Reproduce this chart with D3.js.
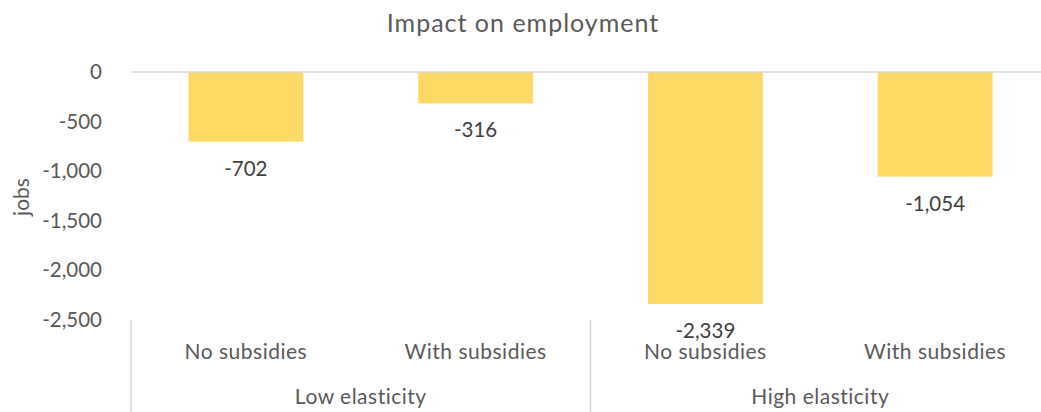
<!DOCTYPE html>
<html>
<head>
<meta charset="utf-8">
<script src="https://cdn.jsdelivr.net/npm/d3@7"></script>
<style>
  html, body { margin: 0; padding: 0; background: #fff; }
  svg { display: block; font-family: Lato, "Open Sans", sans-serif; }
</style>
</head>
<body>
<svg id="chart" width="1041" height="412"></svg>
<script>
// Employment impact by elasticity scenario and subsidy option
const groups = ["Low elasticity", "High elasticity"];
const subcategories = ["No subsidies", "With subsidies"];
const jobs = [-702, -316, -2339, -1054];
const yTicks = [0, -500, -1000, -1500, -2000, -2500];

const rows = [];
groups.forEach((g, gi) => subcategories.forEach((s, si) => {
  rows.push({ group: g, sub: s, key: g + "|" + s, value: jobs[gi * subcategories.length + si] });
}));

const svg = d3.select("#chart");
const plotLeft = 131, plotRight = 1050, plotTop = 72, plotBottom = 320;

const x = d3.scaleBand().domain(rows.map(d => d.key)).range([plotLeft, plotRight]).paddingInner(0.5).paddingOuter(0.25);
const xGroup = d3.scaleBand().domain(groups).range([plotLeft, plotRight]);
const y = d3.scaleLinear().domain([0, -2500]).range([plotTop, plotBottom]);

// thousands separator with a plain hyphen for negatives
const fmt = d3.formatLocale({ decimal: ".", thousands: ",", grouping: [3], currency: ["", ""], minus: "-" }).format(",");
const grey = "#595959";

// title
svg.append("text").attr("x", 523).attr("y", 32).attr("text-anchor", "middle")
  .attr("font-size", 25).attr("letter-spacing", 1).attr("fill", grey).text("Impact on employment");

// y axis labels
const yAxis = d3.axisLeft(y).tickValues(yTicks).tickFormat(fmt).tickSize(0).tickPadding(0);
const yg = svg.append("g").attr("transform", `translate(${plotLeft - 29},0)`).call(yAxis);
yg.select(".domain").remove();
yg.selectAll("text").attr("font-size", 20.5).attr("fill", grey).attr("font-family", "Lato, 'Open Sans', sans-serif");

// y axis title
svg.append("text").attr("transform", `translate(22,197) rotate(-90)`)
  .attr("text-anchor", "middle").attr("dy", "0.35em")
  .attr("font-size", 21).attr("fill", grey).text("jobs");

// bars
svg.append("g").selectAll("rect").data(rows).join("rect")
  .attr("x", d => x(d.key)).attr("width", x.bandwidth())
  .attr("y", y(0)).attr("height", d => y(d.value) - y(0))
  .attr("fill", "#FFD966");

// zero line
svg.append("line").attr("x1", plotLeft).attr("x2", plotRight).attr("y1", y(0)).attr("y2", y(0))
  .attr("stroke", "#d9d9d9").attr("stroke-width", 1.5);

// data labels
svg.append("g").selectAll("text").data(rows).join("text")
  .attr("x", d => x(d.key) + x.bandwidth() / 2).attr("y", d => y(d.value) + 34)
  .attr("text-anchor", "middle").attr("font-size", 20.5).attr("fill", "#404040")
  .text(d => fmt(d.value));

// category axis: group separators
const seps = groups.map(g => xGroup(g)).concat([plotRight]);
svg.append("g").selectAll("line").data(seps).join("line")
  .attr("x1", d => d).attr("x2", d => d).attr("y1", plotBottom).attr("y2", 412)
  .attr("stroke", "#d9d9d9").attr("stroke-width", 1.5);

// subcategory labels
svg.append("g").selectAll("text").data(rows).join("text")
  .attr("x", d => x(d.key) + x.bandwidth() / 2).attr("y", 359)
  .attr("text-anchor", "middle").attr("font-size", 21).attr("letter-spacing", 0.5).attr("fill", grey)
  .text(d => d.sub);

// group labels
svg.append("g").selectAll("text").data(groups).join("text")
  .attr("x", g => xGroup(g) + xGroup.bandwidth() / 2).attr("y", 404)
  .attr("text-anchor", "middle").attr("font-size", 21).attr("letter-spacing", 0.5).attr("fill", grey)
  .text(g => g);
</script>
</body>
</html>
